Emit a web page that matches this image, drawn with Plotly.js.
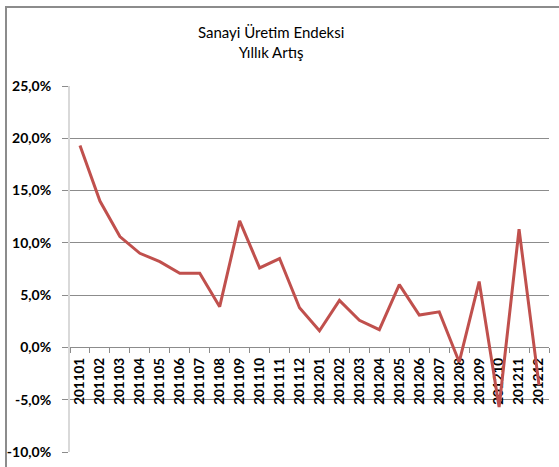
<!DOCTYPE html>
<html>
<head>
<meta charset="utf-8">
<script src="https://cdn.plot.ly/plotly-3.0.1.min.js"></script>
<style>
  html, body { margin: 0; padding: 0; background: #fff; }
  #wrap { position: relative; width: 559px; height: 467px; }
  #chart { width: 559px; height: 467px; }
  #frame { position: absolute; left: 5px; top: 6px; right: -2px; bottom: -2px;
           border-top: 2px solid #8c8c8c; border-left: 2px solid #8c8c8c; pointer-events: none; }
</style>
</head>
<body>
<div id="wrap">
  <div id="chart"></div>
  <div id="frame"></div>
</div>
<script>
const months = ["201101","201102","201103","201104","201105","201106","201107","201108","201109","201110","201111","201112",
                "201201","201202","201203","201204","201205","201206","201207","201208","201209","201210","201211","201212"];
const growth = [19.3, 14.0, 10.6, 9.0, 8.2, 7.1, 7.1, 3.9, 12.1, 7.6, 8.5, 3.8,
                1.6, 4.5, 2.6, 1.7, 6.0, 3.1, 3.4, -1.4, 6.3, -5.7, 11.3, -3.6];
const yTicks = [-10, -5, 0, 5, 10, 15, 20, 25];
const yTickLabels = ["-10,0%", "-5,0%", "0,0%", "5,0%", "10,0%", "15,0%", "20,0%", "25,0%"];
const titleText = "Sanayi Üretim Endeksi<br>Yıllık Artış";

const yMin = -10, yMax = 25;

const trace = {
  type: "scatter",
  mode: "lines",
  x: months,
  y: growth,
  line: { color: "#C0504D", width: 3 },
  hoverinfo: "x+y"
};

const layout = {
  width: 559,
  height: 467,
  margin: { l: 70, r: 10, t: 86, b: 15 },
  paper_bgcolor: "#ffffff",
  plot_bgcolor: "#ffffff",
  showlegend: false,
  separators: ",.",
  title: {
    text: titleText,
    x: 0.485,
    xref: "container",
    xanchor: "center",
    y: 1 - 38 / 467,
    yref: "container",
    yanchor: "top",
    font: { family: "Lato, 'Open Sans', sans-serif", size: 15, color: "#000000" }
  },
  xaxis: {
    type: "category",
    range: [-0.5, months.length - 0.5],
    anchor: "free",
    position: (0 - yMin) / (yMax - yMin),
    showgrid: false,
    showline: true,
    linecolor: "#8c8c8c",
    linewidth: 1,
    ticks: "outside",
    tickson: "boundaries",
    ticklen: 5,
    tickcolor: "#8c8c8c",
    tickangle: -90,
    ticklabelstandoff: 4,
    tickfont: { family: "Lato, sans-serif", size: 13.5, color: "#000000", weight: "bold" },
    layer: "below traces",
    fixedrange: true
  },
  yaxis: {
    range: [yMin, yMax],
    tickmode: "array",
    tickvals: yTicks,
    ticktext: yTickLabels,
    showgrid: true,
    gridcolor: "#8c8c8c",
    gridwidth: 1,
    zeroline: false,
    showline: true,
    linecolor: "#d9d9d9",
    linewidth: 2,
    ticks: "outside",
    ticklen: 6,
    tickcolor: "#8c8c8c",
    ticklabelstandoff: 8,
    tickfont: { family: "Lato, sans-serif", size: 14, color: "#000000", weight: "bold" },
    fixedrange: true
  }
};

Plotly.newPlot("chart", [trace], layout, { displayModeBar: false, staticPlot: true });
</script>
</body>
</html>
